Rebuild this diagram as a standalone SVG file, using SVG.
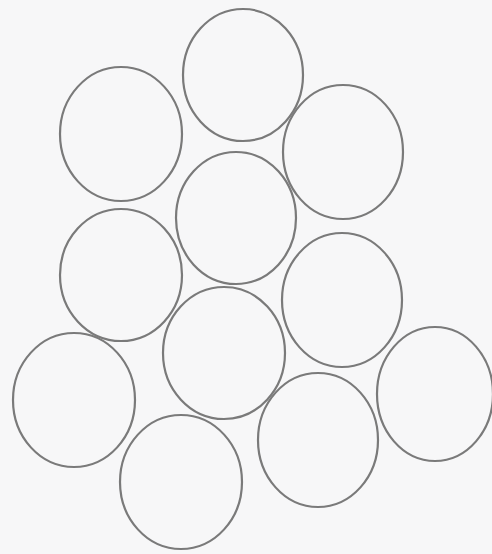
<svg xmlns="http://www.w3.org/2000/svg" width="492" height="554" viewBox="0 0 492 554">
<style>
.c{fill:none;stroke:#7a7a7a;stroke-width:2.2}
</style>
<rect width="492" height="554" fill="#f7f7f8"/>
<g id="c1"><ellipse class="c" cx="243" cy="75" rx="60" ry="66"/></g>
<g id="c2"><ellipse class="c" cx="121" cy="134" rx="61" ry="67"/></g>
<g id="c3"><ellipse class="c" cx="343" cy="152" rx="60" ry="67"/></g>
<g id="c4"><ellipse class="c" cx="236" cy="218" rx="60" ry="66"/></g>
<g id="c5"><ellipse class="c" cx="121" cy="275" rx="61" ry="66"/></g>
<g id="c6"><ellipse class="c" cx="342" cy="300" rx="60" ry="67"/></g>
<g id="c7"><ellipse class="c" cx="224" cy="353" rx="61" ry="66"/></g>
<g id="c8"><ellipse class="c" cx="74" cy="400" rx="61" ry="67"/></g>
<g id="c9"><ellipse class="c" cx="435" cy="394" rx="58" ry="67"/></g>
<g id="c10"><ellipse class="c" cx="318" cy="440" rx="60" ry="67"/></g>
<g id="c11"><ellipse class="c" cx="181" cy="482" rx="61" ry="67"/></g>
</svg>
